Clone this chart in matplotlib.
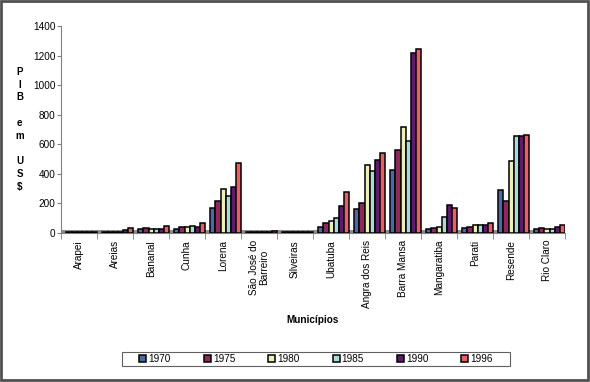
import numpy as np
import matplotlib
matplotlib.use("Agg")
import matplotlib.pyplot as plt
from matplotlib.patches import Rectangle

plt.rcParams['font.family'] = ['Liberation Sans', 'DejaVu Sans']

# --- dados ---
municipios = ["Arapei", "Areias", "Bananal", "Cunha", "Lorena", "São José do\nBarreiro",
              "Silveiras", "Ubatuba", "Angra dos Reis", "Barra Mansa", "Mangaratiba",
              "Parati", "Resende", "Rio Claro"]
anos = ["1970", "1975", "1980", "1985", "1990", "1996"]

pib_1970 = [6, 5, 27, 29, 171, 6, 6, 38, 164, 425, 29, 31, 290, 29]
pib_1975 = [7, 6, 31, 43, 218, 7, 7, 70, 205, 560, 36, 40, 216, 31]
pib_1980 = [7, 6, 25, 38, 295, 6, 6, 83, 459, 718, 43, 52, 488, 29]
pib_1985 = [8, 8, 25, 47, 250, 7, 7, 101, 421, 623, 110, 54, 657, 25]
pib_1990 = [8, 22, 25, 43, 313, 8, 8, 182, 493, 1217, 189, 54, 655, 38]
pib_1996 = [10, 36, 45, 65, 475, 12, 10, 275, 538, 1242, 171, 67, 666, 52]

series = [pib_1970, pib_1975, pib_1980, pib_1985, pib_1990, pib_1996]
cores = ["#4A6BA8", "#8E2A5A", "#EEEEBB", "#A8DCDC", "#5E1A6E", "#E8605F"]

fig = plt.figure(figsize=(5.9, 3.82), dpi=100)
ax = fig.add_axes([0.1034, 0.390, 0.854, 0.542])

x = np.arange(len(municipios))
largura = 0.142
inicio = -0.35
for k, (vals, cor, ano) in enumerate(zip(series, cores, anos)):
    ax.bar(x + inicio + (k + 0.5) * largura, vals, largura, color=cor,
           edgecolor="black", linewidth=1.1, label=ano, zorder=3)

# "chão" cinza do gráfico 3D
ax.axhspan(0, 18, color="#8C8C8C", zorder=1, lw=0)

ax.set_xlim(-0.5, len(municipios) - 0.5)
ax.set_ylim(0, 1400)
ax.set_yticks(range(0, 1401, 200))
ax.set_xticks(x)
ax.set_xticklabels(municipios, rotation=90, fontsize=7.2, linespacing=1.0)
ax.set_xticks(np.arange(-0.5, len(municipios)), minor=True)
ax.tick_params(axis="x", which="major", length=0, pad=5)
ax.tick_params(axis="x", which="minor", length=4, color="#808080")
ax.tick_params(axis="y", labelsize=7.2, length=3, color="#808080", pad=1)

for s in ["top", "right"]:
    ax.spines[s].set_visible(False)
ax.spines["left"].set_color("#808080")
ax.spines["bottom"].set_color("#808080")

ax.set_xlabel("Municípios", fontsize=7.2, fontweight="bold", labelpad=5)
fig.text(0.033, 0.661, "P\nI\nB\n\ne\nm\n\nU\nS\n$", ha="center", va="center",
         fontsize=7, fontweight="bold", linespacing=1.35)

leg = fig.legend(loc="center", bbox_to_anchor=(0.536, 0.060), ncol=6, fontsize=7.2,
                 frameon=False, handlelength=0.7, handleheight=0.7, handletextpad=0.2,
                 columnspacing=3.3, borderpad=0.25)

# caixa da legenda
fig.patches.append(Rectangle((122 / 590, 1 - 366 / 382), 388 / 590, 14 / 382,
                             transform=fig.transFigure, fill=False,
                             edgecolor="#606060", linewidth=0.8))

# moldura externa
fig.patches.append(Rectangle((0.002, 0.004), 0.994, 0.993, transform=fig.transFigure,
                             fill=False, edgecolor="#505050", linewidth=2))

fig.savefig("out.png", dpi=100)
